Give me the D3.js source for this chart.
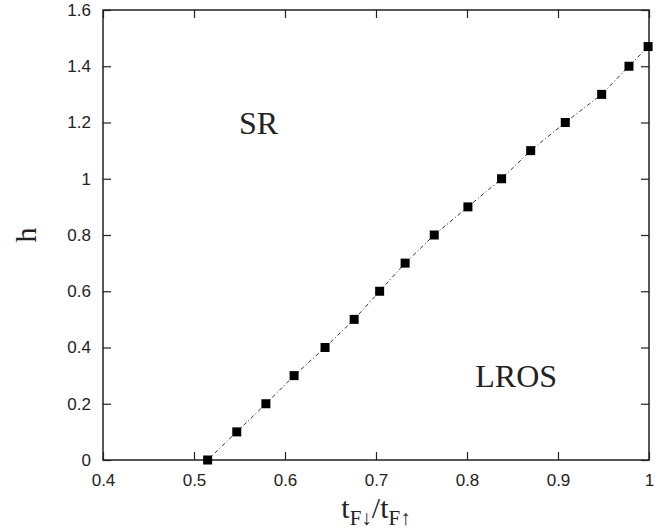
<!DOCTYPE html>
<html>
<head>
<meta charset="utf-8">
<script src="https://cdn.jsdelivr.net/npm/d3@7"></script>
<style>
  body { margin: 0; background: #fff; }
  svg { display: block; }
</style>
</head>
<body>
<svg id="chart"></svg>
<script>
// boundary points
var ratio = [0.515, 0.547, 0.579, 0.610, 0.644, 0.676, 0.704, 0.732, 0.764, 0.801, 0.838, 0.870, 0.908, 0.948, 0.978, 0.999];
var hVals = [0, 0.1, 0.2, 0.3, 0.4, 0.5, 0.6, 0.7, 0.8, 0.9, 1.0, 1.1, 1.2, 1.3, 1.4, 1.47];
var xTicks = [0.4, 0.5, 0.6, 0.7, 0.8, 0.9, 1];
var yTicks = [0, 0.2, 0.4, 0.6, 0.8, 1, 1.2, 1.4, 1.6];
var regionLabels = [
    {text: "SR", x: 0.571, y: 1.16},
    {text: "LROS", x: 0.854, y: 0.26}
];

var width = 672, height = 530;
var margin = {top: 10, left: 103, bottom: 70, right: 23};
var plotW = width - margin.left - margin.right;
var plotH = height - margin.top - margin.bottom;
var ink = "#222";

var svg = d3.select("#chart")
    .attr("width", width)
    .attr("height", height);

var g = svg.append("g")
    .attr("transform", "translate(" + margin.left + "," + margin.top + ")");

var x = d3.scaleLinear().domain([0.4, 1]).range([0, plotW]);
var y = d3.scaleLinear().domain([0, 1.6]).range([plotH, 0]);

// frame with inward ticks on all sides
function styleAxis(sel) {
    sel.select(".domain").remove();
    sel.selectAll(".tick line").attr("stroke", ink).attr("stroke-width", 1.2);
    sel.selectAll(".tick text")
        .attr("fill", ink)
        .style("font-family", "'Liberation Sans', Arial, sans-serif")
        .style("font-size", "17px");
}

g.append("g")
    .attr("transform", "translate(0," + plotH + ")")
    .call(d3.axisBottom(x).tickValues(xTicks).tickSize(-8).tickPadding(14)
        .tickFormat(function (d) { return d === 1 ? "1" : d3.format(".1f")(d); }))
    .call(styleAxis);

g.append("g")
    .call(d3.axisTop(x).tickValues(xTicks).tickSize(-8).tickFormat(""))
    .call(styleAxis);

g.append("g")
    .call(d3.axisLeft(y).tickValues(yTicks).tickSize(-8).tickPadding(12)
        .tickFormat(function (d) { return (d === 0 || d === 1) ? String(d) : d3.format(".1f")(d); }))
    .call(styleAxis);

g.append("g")
    .attr("transform", "translate(" + plotW + ",0)")
    .call(d3.axisRight(y).tickValues(yTicks).tickSize(-8).tickFormat(""))
    .call(styleAxis);

g.append("rect")
    .attr("width", plotW)
    .attr("height", plotH)
    .attr("fill", "none")
    .attr("stroke", ink)
    .attr("stroke-width", 1.5);

var pts = ratio.map(function (r, i) { return [r, hVals[i]]; });

var line = d3.line()
    .x(function (d) { return x(d[0]); })
    .y(function (d) { return y(d[1]); });

g.append("path")
    .datum(pts)
    .attr("fill", "none")
    .attr("stroke", "#333")
    .attr("stroke-width", 1)
    .attr("stroke-dasharray", "4,2.5,1,2.5")
    .attr("d", line);

var sq = 9;
g.selectAll(".pt")
    .data(pts)
    .enter().append("rect")
    .attr("class", "pt")
    .attr("x", function (d) { return x(d[0]) - sq / 2; })
    .attr("y", function (d) { return y(d[1]) - sq / 2; })
    .attr("width", sq)
    .attr("height", sq)
    .attr("fill", "#000");

var serif = "'Liberation Serif', 'Times New Roman', serif";

g.selectAll(".region")
    .data(regionLabels)
    .enter().append("text")
    .attr("class", "region")
    .attr("x", function (d) { return x(d.x); })
    .attr("y", function (d) { return y(d.y); })
    .attr("text-anchor", "middle")
    .attr("fill", ink)
    .style("font-family", serif)
    .style("font-size", "32px")
    .text(function (d) { return d.text; });

// y axis label
svg.append("text")
    .attr("transform", "translate(36," + (margin.top + plotH / 2) + ") rotate(-90)")
    .attr("text-anchor", "middle")
    .attr("fill", ink)
    .style("font-family", serif)
    .style("font-size", "30px")
    .text("h");

// x axis label: t_{F↓}/t_{F↑}
var xl = svg.append("text")
    .attr("x", margin.left + plotW / 2)
    .attr("y", 518)
    .attr("text-anchor", "middle")
    .attr("fill", ink)
    .style("font-family", serif)
    .style("font-size", "30px");
xl.append("tspan").text("t");
xl.append("tspan").attr("dy", 7).style("font-size", "21px").text("F\u2193");
xl.append("tspan").attr("dy", -7).text("/t");
xl.append("tspan").attr("dy", 7).style("font-size", "21px").text("F\u2191");
</script>
</body>
</html>
